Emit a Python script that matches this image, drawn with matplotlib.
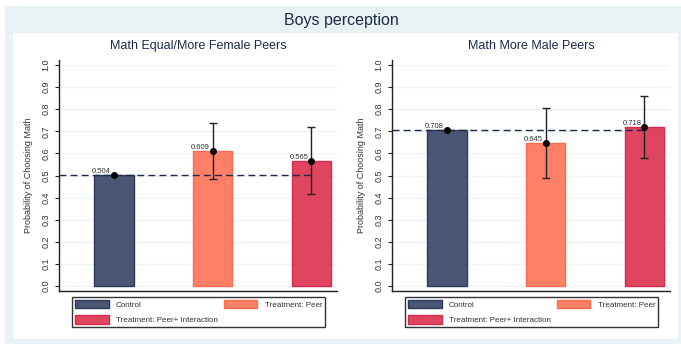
import numpy as np
import matplotlib.pyplot as plt
from matplotlib.patches import Rectangle, Patch

plt.rcParams['font.family'] = ['Liberation Sans', 'DejaVu Sans']

# group labels and colours
groups = ['Control', 'Treatment: Peer', 'Treatment: Peer+ Interaction']
face = ['#4a5673', '#ff7f67', '#e0455f']
edge = ['#2c3a5e', '#ff6a52', '#d42c4c']

# panel titles
panels = ['Math Equal/More Female Peers', 'Math More Male Peers']

# estimated probabilities and 95% confidence bounds
female_est = [0.504, 0.609, 0.565]
female_lo = [np.nan, 0.484, 0.416]
female_hi = [np.nan, 0.738, 0.720]

male_est = [0.708, 0.645, 0.718]
male_lo = [np.nan, 0.489, 0.579]
male_hi = [np.nan, 0.805, 0.860]

yticks = np.arange(0, 1.01, 0.1)

fig = plt.figure(figsize=(6.81, 3.44), dpi=100)
fig.patch.set_facecolor('white')

# light frame and white inner panel
fig.patches.append(Rectangle((5 / 681, 0), 1, 1 - 6 / 344, transform=fig.transFigure,
                             facecolor='#e8f1f3', edgecolor='none', zorder=-3))
fig.patches.append(Rectangle((13 / 681, 5 / 344), 665 / 681, (339 - 33) / 344,
                             transform=fig.transFigure, facecolor='white',
                             edgecolor='none', zorder=-2))
fig.text(341 / 681, 1 - 20 / 344, 'Boys perception', ha='center', va='center',
         fontsize=11.5, color='#1e2a4a')

navy = '#1e2a4a'
x = np.arange(3)

def draw_panel(left, title, est, lo, hi):
    ax = fig.add_axes([left / 681, 1 - 291 / 344, 278 / 681, 231 / 344])
    ax.set_zorder(1)
    ax.set_facecolor('white')
    ax.set_xlim(-0.556, 2.26)
    ax.set_ylim(-0.023, 1.023)
    for i in x:
        ax.bar(i, est[i], width=0.4, color=face[i], edgecolor=edge[i],
               linewidth=1, zorder=2)
    err = np.array([np.array(est) - np.array(lo), np.array(hi) - np.array(est)])
    ax.errorbar(x[1:], est[1:], yerr=err[:, 1:], fmt='none', ecolor='#222222',
                elinewidth=1, capsize=3, capthick=1, zorder=4)
    ax.plot(x, est, 'o', color='black', markersize=4, zorder=5)
    for i in x:
        ax.annotate('%.3f' % est[i], (i, est[i]), xytext=(-2, 0),
                    textcoords='offset points', ha='right', va='bottom',
                    fontsize=5.5, color='#333333', zorder=6)
    ax.plot([-0.556, 2], [est[0], est[0]], color=navy, linewidth=1,
            dashes=(5, 3), zorder=3)
    ax.set_yticks(yticks)
    ax.set_yticklabels(['%.1f' % t for t in yticks], rotation=90, va='center',
                       fontsize=6.5, color='#333333')
    ax.yaxis.grid(True, color='#eef3f3', linewidth=1)
    ax.set_axisbelow(True)
    ax.set_xticks([])
    ax.tick_params(axis='y', length=3, width=0.8, pad=3, color='#222222')
    for s in ['top', 'right']:
        ax.spines[s].set_visible(False)
    for s in ['left', 'bottom']:
        ax.spines[s].set_color('#222222')
        ax.spines[s].set_linewidth(1)
    ax.set_ylabel('Probability of Choosing Math', fontsize=6.5, color='#333333',
                  labelpad=6)
    ax.set_title(title, fontsize=9, color=navy, pad=8)
    handles = [Patch(facecolor=face[i], edgecolor=edge[i], linewidth=1)
               for i in [0, 2, 1]]
    labels = [groups[i] for i in [0, 2, 1]]
    leg = ax.legend(handles, labels, ncol=2, mode='expand',
                    bbox_to_anchor=(0.047, -0.155, 0.91, 0.13), loc='upper left',
                    fontsize=5.8, frameon=True, fancybox=False, edgecolor='black',
                    handlelength=4.2, handleheight=1.3, borderaxespad=0,
                    labelspacing=0.75, handletextpad=0.9, borderpad=0.35)
    leg.get_frame().set_linewidth(1)
    for t in leg.get_texts():
        t.set_color('#333333')
    return ax

draw_panel(59, panels[0], female_est, female_lo, female_hi)
draw_panel(392, panels[1], male_est, male_lo, male_hi)

fig.savefig('out.png', dpi=100)
